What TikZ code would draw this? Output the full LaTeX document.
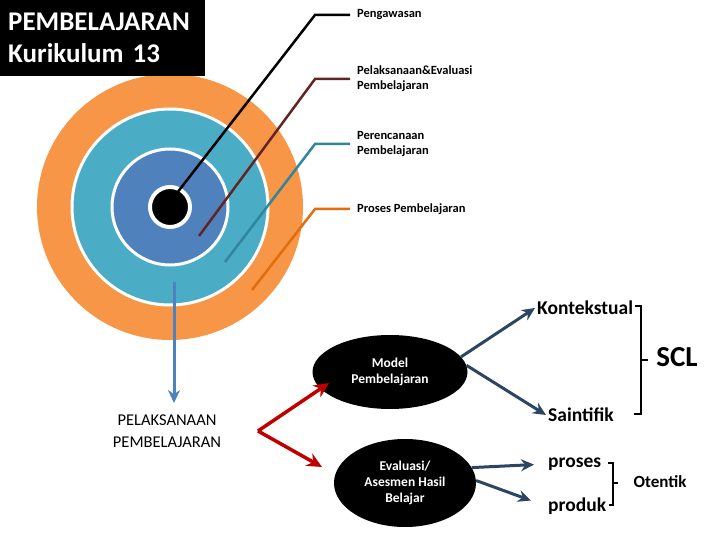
\documentclass[tikz,border=0pt]{standalone}
\usepackage{fontspec}
\setmainfont{Carlito}
\usetikzlibrary{arrows.meta,shapes.geometric}

\definecolor{ringOrange}{HTML}{F79646}
\definecolor{ringTeal}{HTML}{4BACC6}
\definecolor{ringBlue}{HTML}{4F81BD}
\definecolor{leadBrown}{HTML}{632523}
\definecolor{leadTeal}{HTML}{31859C}
\definecolor{leadOrange}{HTML}{E46C0A}
\definecolor{forkRed}{HTML}{C00000}
\definecolor{navyArrow}{HTML}{2C4563}

\begin{document}
\begin{tikzpicture}[
    x=1pt, y=-1pt,
    ring/.style={circle, draw=white, line width=3pt, inner sep=0pt},
    leader/.style={line width=2.5pt},
    lbl/.style={font=\fontsize{12.5}{15}\selectfont\bfseries, align=left, anchor=west, inner xsep=7pt, inner ysep=0pt},
    blob/.style={ellipse, fill=black, text=white, align=center, inner sep=0pt, font=\fontsize{13.5}{16}\selectfont\bfseries},
    term/.style={anchor=west, inner sep=2pt, font=\fontsize{19.5}{22}\selectfont\bfseries},
    brace/.style={line width=2.5pt},
    arrow/.style={-{Stealth[length=13pt, width=12pt]}, line width=3pt, draw=navyArrow},
    redarrow/.style={-{Stealth[length=15pt, width=14pt]}, line width=3.5pt, draw=forkRed}
]
\useasboundingbox (0,0) rectangle (720,540);

\node[ring, fill=ringOrange, draw=none, minimum size=266pt] (proses) at (170,207) {};
\node[ring, fill=ringTeal, minimum size=196pt] (rencana) at (170,207) {};
\node[ring, fill=ringBlue, minimum size=116pt] (laksana) at (170,207) {};
\node[ring, fill=black, line width=4pt, minimum size=40pt] (awas) at (170,207) {};

\node[fill=black, text=white, anchor=north west, text width=189pt, inner xsep=8pt,
      minimum height=76pt, align=left, font=\fontsize{27}{32}\selectfont\bfseries] (judul) at (0,0)
      {PEMBELAJARAN\\Kurikulum 13};

\node[lbl] (awasLbl) at (350,15) {Pengawasan};
\node[lbl] (laksanaLbl) at (350,79) {Pelaksanaan\&Evaluasi\\Pembelajaran};
\node[lbl] (rencanaLbl) at (350,144) {Perencanaan\\Pembelajaran};
\node[lbl] (prosesLbl) at (350,209) {Proses Pembelajaran};

\coordinate (awasPt) at (177,193);
\coordinate (laksanaPt) at (199,236);
\coordinate (rencanaPt) at (225,262);
\coordinate (prosesPt) at (252,290);

\draw[leader, black] (awasPt) -- (315,15) -- (awasLbl.west);
\draw[leader, leadBrown] (laksanaPt) -- (315,79) -- (laksanaLbl.west);
\draw[leader, leadTeal] (rencanaPt) -- (315,144) -- (rencanaLbl.west);
\draw[leader, leadOrange] (prosesPt) -- (315,209) -- (prosesLbl.west);

\node[align=center, font=\fontsize{16.5}{22}\selectfont] (pelaksanaan) at (167,431) {PELAKSANAAN\\PEMBELAJARAN};
\coordinate (downPt) at (174,282);
\draw[-{Stealth[length=13pt, width=12pt]}, line width=3pt, ringBlue, shorten >=8pt] (downPt) -- (downPt |- pelaksanaan.north);

\node[blob, minimum width=155pt, minimum height=74pt] (model) at (390,372) {Model\\Pembelajaran};
\node[blob, minimum width=142pt, minimum height=88pt] (evaluasi) at (405,483) {Evaluasi/\\Asesmen Hasil\\Belajar};

\coordinate (fork) at (258,431);
\coordinate (modelTip) at (329,383);
\coordinate (evalTip) at (322,467);
\draw[redarrow] (fork) -- (modelTip);
\draw[redarrow] (fork) -- (evalTip);

\node[term] (kontekstual) at (535,308) {Kontekstual};
\node[term] (saintifik) at (546,415) {Saintifik};
\node[term] (prosesT) at (546,464) {proses};
\node[term] (produk) at (546,506) {produk};
\node[font=\fontsize{29}{32}\selectfont\bfseries] (scl) at (677,357) {SCL};
\node[font=\fontsize{17}{20}\selectfont\bfseries] (otentik) at (660,482) {Otentik};

\draw[arrow] (model.12) -- (kontekstual.west);
\draw[arrow] (model.5) -- (saintifik.west);
\draw[arrow, shorten >=12pt] (evaluasi.13) -- (prosesT.west);
\draw[arrow, shorten >=16pt] (evaluasi.2) -- (produk.west);

\draw[brace] (635,306) -- (641,306) -- (641,414) -- (634,414);
\draw[brace] (641,360) -- (648,360);
\draw[brace] (608,463) -- (613,463) -- (613,505) -- (609,505);
\draw[brace] (613,483) -- (618,483);
\end{tikzpicture}
\end{document}
